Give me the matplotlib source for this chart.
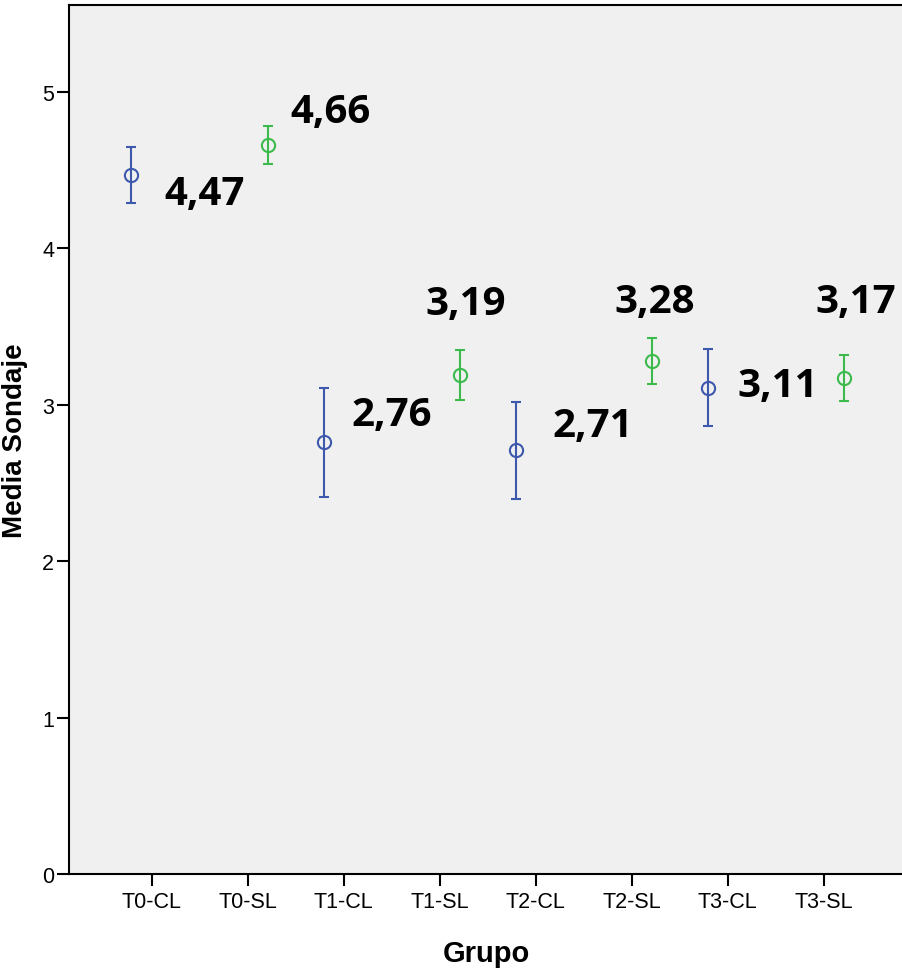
import numpy as np
import matplotlib
matplotlib.use("Agg")
import matplotlib.pyplot as plt

groups = ["T0-CL", "T0-SL", "T1-CL", "T1-SL", "T2-CL", "T2-SL", "T3-CL", "T3-SL"]
means = [4.47, 4.66, 2.76, 3.19, 2.71, 3.28, 3.11, 3.17]
errors = [0.18, 0.12, 0.35, 0.16, 0.31, 0.15, 0.245, 0.147]
value_labels = ["4,47", "4,66", "2,76", "3,19", "2,71", "3,28", "3,11", "3,17"]

# label offsets from each point, in pixels (x right, y up)
label_dx = [73, 63, 68, 6, 77, 3, 70, 12]
label_dy = [-29, 23, 17, 61, 14, 49, -8, 66]

blue = "#3d58ad"
green = "#3cba4c"

plt.rcParams["font.family"] = ["Liberation Sans", "DejaVu Sans"]

fig = plt.figure(figsize=(9.03, 9.70), dpi=100)
ax = fig.add_axes([69/903, 95/970, 1 - 69/903, 869/970])
ax.set_facecolor("#f0f0f0")

x = np.arange(len(groups))
for i, g in enumerate(groups):
    is_cl = g.endswith("CL")
    col = blue if is_cl else green
    xi = x[i] - 0.21 if is_cl else x[i] + 0.21
    ax.errorbar(xi, means[i], yerr=errors[i], fmt="o", color=col,
                mfc="none", mec=col, ms=9.5, mew=1.5, elinewidth=1.5,
                capsize=3.6, capthick=1.5)
    ax.annotate(value_labels[i], (xi, means[i]), xytext=(label_dx[i], label_dy[i]),
                textcoords="offset pixels", ha="center", va="baseline",
                fontsize=29, fontweight="bold", family="Open Sans")

ax.set_xlim(-0.861, 7.826)
ax.set_ylim(0, 5.556)
ax.set_xticks(x)
ax.set_xticklabels(groups)
ax.set_yticks(range(6))
ax.tick_params(axis="both", direction="out", length=8.6, width=1.5,
               labelsize=15.5, colors="black")
ax.tick_params(axis="x", pad=4)
ax.tick_params(axis="y", pad=2)

for s in ["left", "bottom", "top"]:
    ax.spines[s].set_linewidth(1.5)
ax.spines["right"].set_visible(False)

ax.set_xlabel("Grupo", fontsize=21, fontweight="bold", va="center")
ax.xaxis.set_label_coords(0.5, -0.0909)
ax.set_ylabel("Media Sondaje", fontsize=20, fontweight="bold", va="center")
ax.yaxis.set_label_coords(-0.0647, 0.5)

fig.savefig("out.png", dpi=100)
